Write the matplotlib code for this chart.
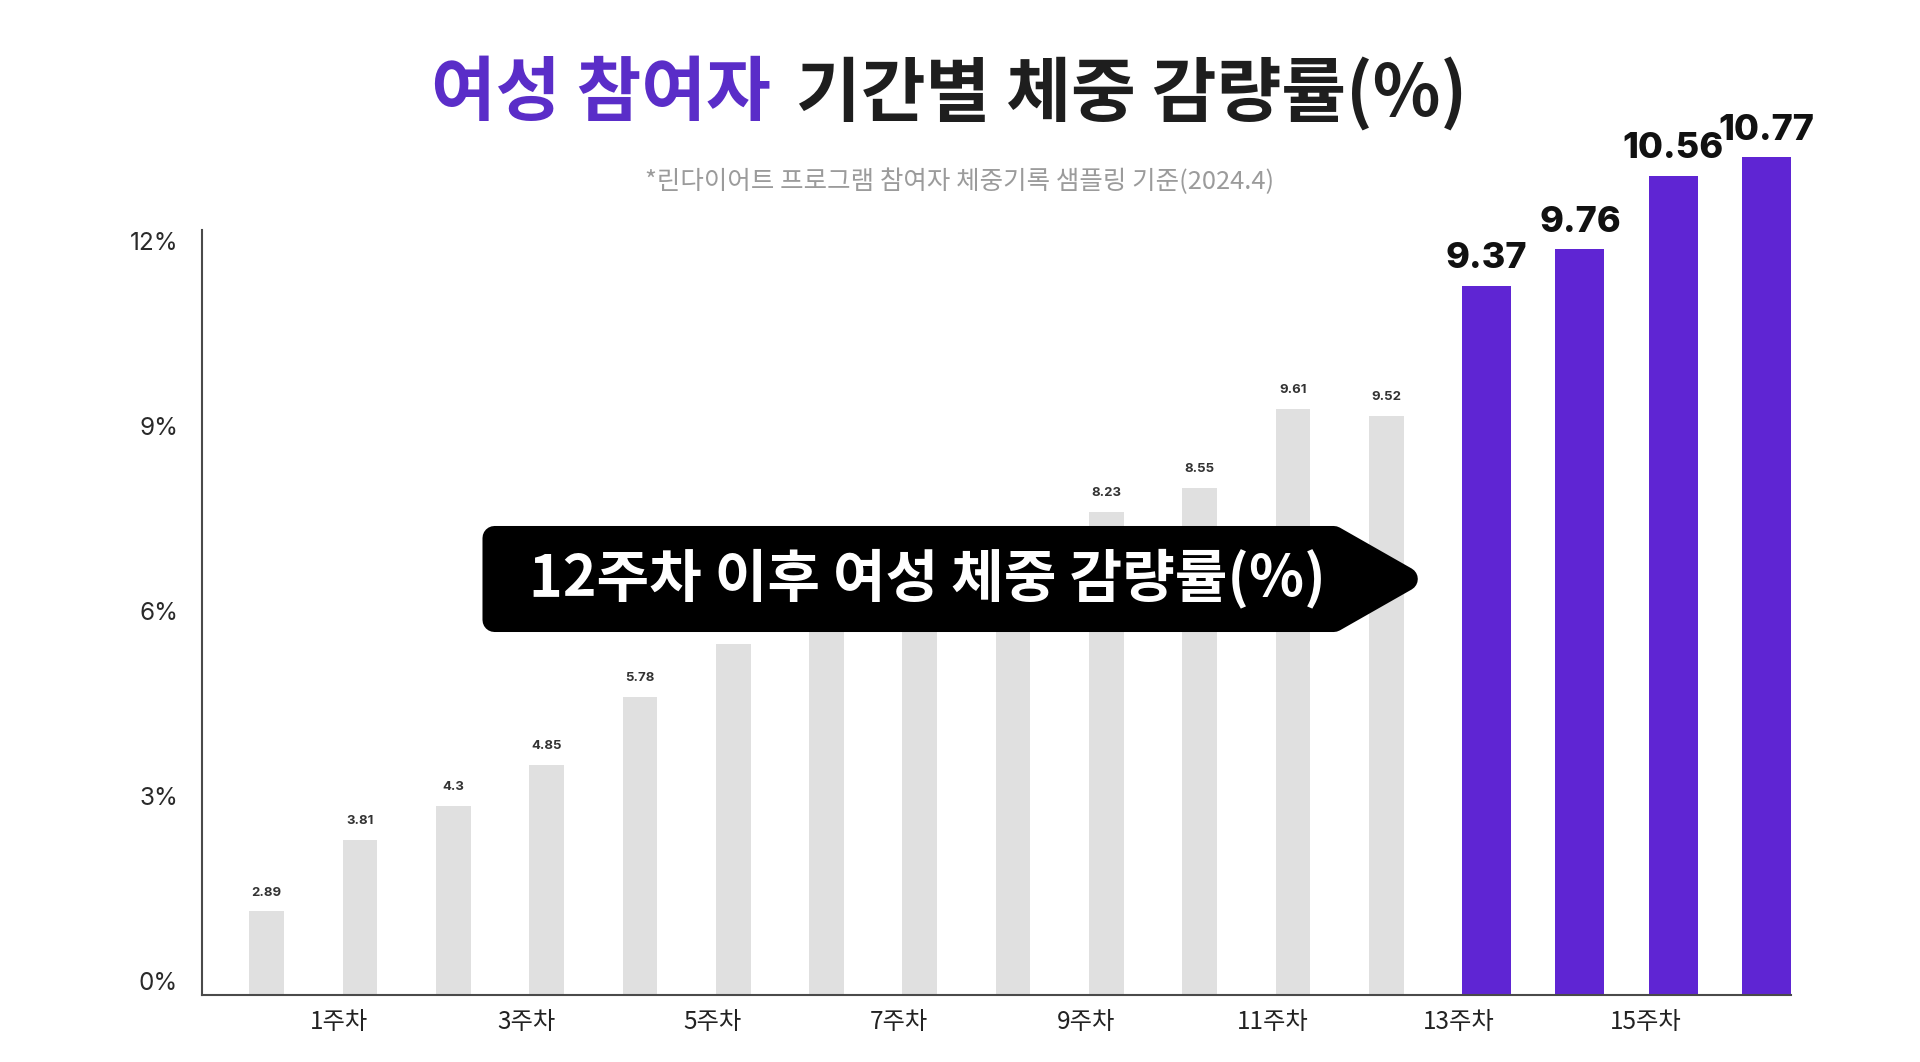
import matplotlib
matplotlib.use("Agg")
import matplotlib.pyplot as plt
from matplotlib.patches import Polygon
from matplotlib.transforms import ScaledTranslation

plt.rcParams['font.family'] = ['Noto Sans CJK KR', 'DejaVu Sans']

# ---------------- data ----------------
title_highlight = "여성 참여자"
title_rest = "기간별 체중 감량률(%)"
subtitle = "*린다이어트 프로그램 참여자 체중기록 샘플링 기준(2024.4)"
callout = "12주차 이후 여성 체중 감량률(%)"

# bar heights as drawn against the y axis (in %), 17 bars
bar_heights = [1.35, 2.51, 3.06, 3.72, 4.83, 5.68, 6.2, 6.6, 7.0,
               7.82, 8.21, 9.49, 9.38, 11.49, 12.08, 13.27, 13.57]
# value labels printed above the bars (hidden ones are covered by the callout)
value_labels = ["2.89", "3.81", "4.3", "4.85", "5.78", None, None, None, None,
                "8.23", "8.55", "9.61", "9.52", "9.37", "9.76", "10.56", "10.77"]
highlighted = [False] * 13 + [True] * 4

tick_weeks = [1, 3, 5, 7, 9, 11, 13, 15]
tick_labels = [f"{w}주차" for w in tick_weeks]
y_ticks = [0, 3, 6, 9, 12]
y_tick_labels = [f"{v}%" for v in y_ticks]

# ---------------- style ----------------
W, H = 1920, 1062
GRAY = "#E0E0E0"
PURPLE = "#5F25D3"
TITLE_PURPLE = "#5A2DC8"
DARK = "#1E1E1E"
NUM_FONT = ['Inter', 'DejaVu Sans']

fig = plt.figure(figsize=(W / 100, H / 100), dpi=100)
fig.patch.set_facecolor("white")

px_per_unit = 61.7
ax_left_px, ax_right_px, ax_bottom_px = 201.7, 1791, 994.7
ylim_top = 14.2
ax = fig.add_axes([ax_left_px / W, (H - ax_bottom_px) / H,
                   (ax_right_px - ax_left_px) / W, ylim_top * px_per_unit / H])

n = len(bar_heights)
xs = list(range(n))
gray_w, purple_w = 0.372, 0.525
for x, h, hl, lab in zip(xs, bar_heights, highlighted, value_labels):
    w = purple_w if hl else gray_w
    left = x - gray_w / 2          # bars share the same left edge in each slot
    ax.bar(left, h, width=w, align="edge",
           color=PURPLE if hl else GRAY, zorder=2)
    if lab is None:
        continue
    cx = left + w / 2
    if hl:
        ax.annotate(lab, (cx, h), xytext=(0, 19.5), textcoords="offset points",
                    ha="center", va="center", fontsize=26, fontweight=800,
                    family=NUM_FONT, color="#111111", zorder=3, annotation_clip=False)
    else:
        ax.annotate(lab, (cx, h), xytext=(0, 13.5), textcoords="offset points",
                    ha="center", va="center", fontsize=9.5, fontweight="bold",
                    family=NUM_FONT, color="#333333", zorder=3)

ax.set_xlim(-0.697, n - 1 - gray_w / 2 + purple_w)
ax.set_ylim(0, ylim_top)

for s in ["top", "right"]:
    ax.spines[s].set_visible(False)
ax.spines["left"].set_bounds(0, 12.39)
for s in ["left", "bottom"]:
    ax.spines[s].set_color("#4a4a4a")
    ax.spines[s].set_linewidth(1.5)

ax.set_yticks(y_ticks)
ax.set_yticklabels(y_tick_labels, fontsize=17.5, color="#2a2a2a", family=NUM_FONT)
ax.tick_params(axis="y", length=0, pad=17)
shift = ScaledTranslation(0, 13.7 / 100, fig.dpi_scale_trans)
for lbl in ax.get_yticklabels():
    lbl.set_transform(lbl.get_transform() + shift)

ax.set_xticks([w - 0.22 for w in tick_weeks])
ax.set_xticklabels(tick_labels, fontsize=17.5, color="#222222")
ax.tick_params(axis="x", length=0, pad=10)

# ---------------- titles ----------------
def fig_xy(x, y):
    return x / W, 1 - y / H

renderer = fig.canvas.get_renderer()

def fit_text(t, target_w):
    for _ in range(3):
        w = t.get_window_extent(renderer).width
        t.set_fontsize(t.get_fontsize() * target_w / w)

# title in two colours
fs = 50
t1 = fig.text(0, 0, title_highlight, fontsize=fs, fontweight=900, color=TITLE_PURPLE,
              ha="left", va="center")
t2 = fig.text(0, 0, title_rest, fontsize=fs, fontweight=900, color=DARK,
              ha="left", va="center")
gap = 25
target = 1036
for _ in range(3):
    w1 = t1.get_window_extent(renderer).width
    w2 = t2.get_window_extent(renderer).width
    fs = fs * (target - gap) / (w1 + w2)
    t1.set_fontsize(fs)
    t2.set_fontsize(fs)
w1 = t1.get_window_extent(renderer).width
w2 = t2.get_window_extent(renderer).width
x0 = 949 - (w1 + gap + w2) / 2
t1.set_position(fig_xy(x0, 94))
t2.set_position(fig_xy(x0 + w1 + gap, 94))

st = fig.text(*fig_xy(960, 182), subtitle, fontsize=18, color="#9b9b9b",
              ha="center", va="center")
fit_text(st, 627)

# ---------------- callout arrow box ----------------
verts = [(494.5, 538), (1333.8, 538), (1405.8, 579), (1333.8, 620), (494.5, 620)]
poly = Polygon([fig_xy(x, y) for x, y in verts], closed=True, transform=fig.transFigure,
               facecolor="black", edgecolor="black", linewidth=17.3, joinstyle="round",
               zorder=10)
fig.patches.append(poly)
ct = fig.text(*fig_xy(927, 579), callout, fontsize=40, fontweight="bold", color="white",
              ha="center", va="center", zorder=11)
fit_text(ct, 796)

fig.savefig("out.png", dpi=100, facecolor="white")
